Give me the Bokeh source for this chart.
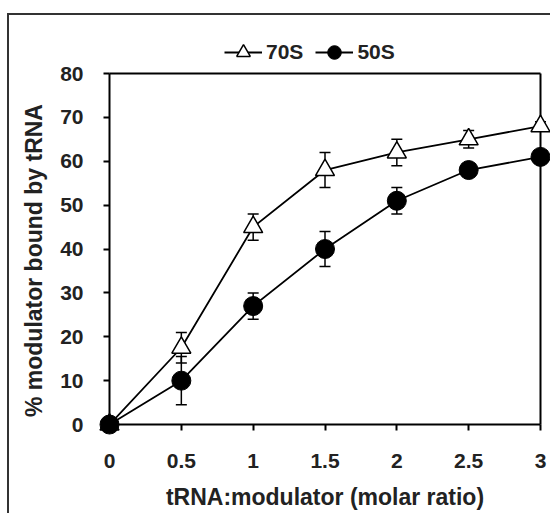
from bokeh.plotting import figure
from bokeh.models import (ColumnDataSource, Whisker, TeeHead, Legend, LegendItem,
                          FixedTicker, Range1d)
from bokeh.embed import file_html
from bokeh.resources import INLINE

# ---- data ----
ratio = [0, 0.5, 1, 1.5, 2, 2.5, 3]
s70 = [0, 17.5, 45, 58, 62, 65, 68]
s70_err = [0, 3.5, 3, 4, 3, 2, 1]
s50 = [0, 10, 27, 40, 51, 58, 61]
s50_err = [0, 5.5, 3, 4, 3, 1, 1]
x_ticks = [0, 0.5, 1, 1.5, 2, 2.5, 3]
x_tick_labels = ["0", "0.5", "1", "1.5", "2", "2.5", "3"]
y_ticks = [0, 10, 20, 30, 40, 50, 60, 70, 80]
series_names = ["70S", "50S"]
x_title = "tRNA:modulator (molar ratio)"
y_title = "% modulator bound by tRNA"

FONT = "Liberation Sans"
X0, X1 = x_ticks[0], x_ticks[-1]
Y0, Y1 = y_ticks[0], y_ticks[-1]
PADX = 0.0766    # room so edge markers are not clipped
PADY_LO = 2.5
PADY_HI = 8.89   # room above the axes box for the legend
GAP = 11         # px between frame edge and axes box

src70 = ColumnDataSource(dict(x=ratio, y=s70,
                              lo=[a - b for a, b in zip(s70, s70_err)],
                              hi=[a + b for a, b in zip(s70, s70_err)]))
src50 = ColumnDataSource(dict(x=ratio, y=s50,
                              lo=[a - b for a, b in zip(s50, s50_err)],
                              hi=[a + b for a, b in zip(s50, s50_err)]))

p = figure(width=543, height=500, output_backend="svg", toolbar_location=None,
           x_range=Range1d(X0 - PADX, X1 + PADX),
           y_range=Range1d(Y0 - PADY_LO, Y1 + PADY_HI),
           min_border_left=89, min_border_right=1, min_border_top=19,
           min_border_bottom=80)
p.styles = {"border-left": "2px solid #333", "border-top": "2px solid #333",
            "margin-top": "13px", "margin-left": "7px"}
p.grid.visible = False
p.outline_line_color = None
p.background_fill_color = "white"
p.border_fill_color = "white"

# axes box
p.segment(x0=[X0, X0, X0, X1], y0=[Y0, Y0, Y1, Y0],
          x1=[X1, X0, X1, X1], y1=[Y0, Y1, Y1, Y1],
          line_color="black", line_width=2)

for ax in (p.xaxis[0], p.yaxis[0]):
    ax.axis_line_color = None
    ax.major_tick_line_width = 2
    ax.major_tick_line_color = "black"
    ax.major_tick_in = GAP
    ax.major_tick_out = -5
    ax.minor_tick_line_color = None
    ax.major_label_text_font = FONT
    ax.major_label_text_font_style = "bold"
    ax.major_label_text_font_size = "21px"
    ax.major_label_text_color = "#222"
    ax.axis_label_text_font = FONT
    ax.axis_label_text_font_style = "bold"
    ax.axis_label_text_font_size = "23px"
    ax.axis_label_text_color = "#222"

p.xaxis.ticker = FixedTicker(ticks=x_ticks)
p.xaxis.major_label_overrides = {t: l for t, l in zip(x_ticks, x_tick_labels)}
p.xaxis.major_label_standoff = 18
p.xaxis.axis_label = x_title
p.xaxis.axis_label_standoff = 13

p.yaxis.ticker = FixedTicker(ticks=y_ticks)
p.yaxis.major_label_standoff = 15
# trailing no-break spaces centre the title on the axes box rather than the frame
p.yaxis.axis_label = y_title + "\u00a0" * 8
p.yaxis.axis_label_standoff = 10

for src in (src70, src50):
    w = Whisker(source=src, base="x", upper="hi", lower="lo", level="underlay",
                line_color="black", line_width=1.5,
                upper_head=TeeHead(size=11, line_width=1.5, line_color="black"),
                lower_head=TeeHead(size=11, line_width=1.5, line_color="black"))
    p.add_layout(w)

l70 = p.line("x", "y", source=src70, line_color="black", line_width=1.8)
m70 = p.scatter("x", "y", source=src70, marker="triangle", size=19,
                fill_color="white", line_color="black", line_width=1.5)
l50 = p.line("x", "y", source=src50, line_color="black", line_width=1.8)
m50 = p.scatter("x", "y", source=src50, marker="circle", size=19,
                fill_color="black", line_color="black")

legend = Legend(items=[LegendItem(label=series_names[0], renderers=[l70, m70]),
                       LegendItem(label=series_names[1], renderers=[l50, m50])],
                orientation="horizontal", location=(126, 366),
                border_line_color=None, background_fill_alpha=0,
                label_text_font=FONT, label_text_font_style="bold",
                label_text_font_size="21px", label_text_color="#222",
                glyph_width=38, glyph_height=34, spacing=12, padding=0,
                label_standoff=4, margin=0)
p.add_layout(legend)

open("out.html", "w").write(file_html(p, INLINE))
